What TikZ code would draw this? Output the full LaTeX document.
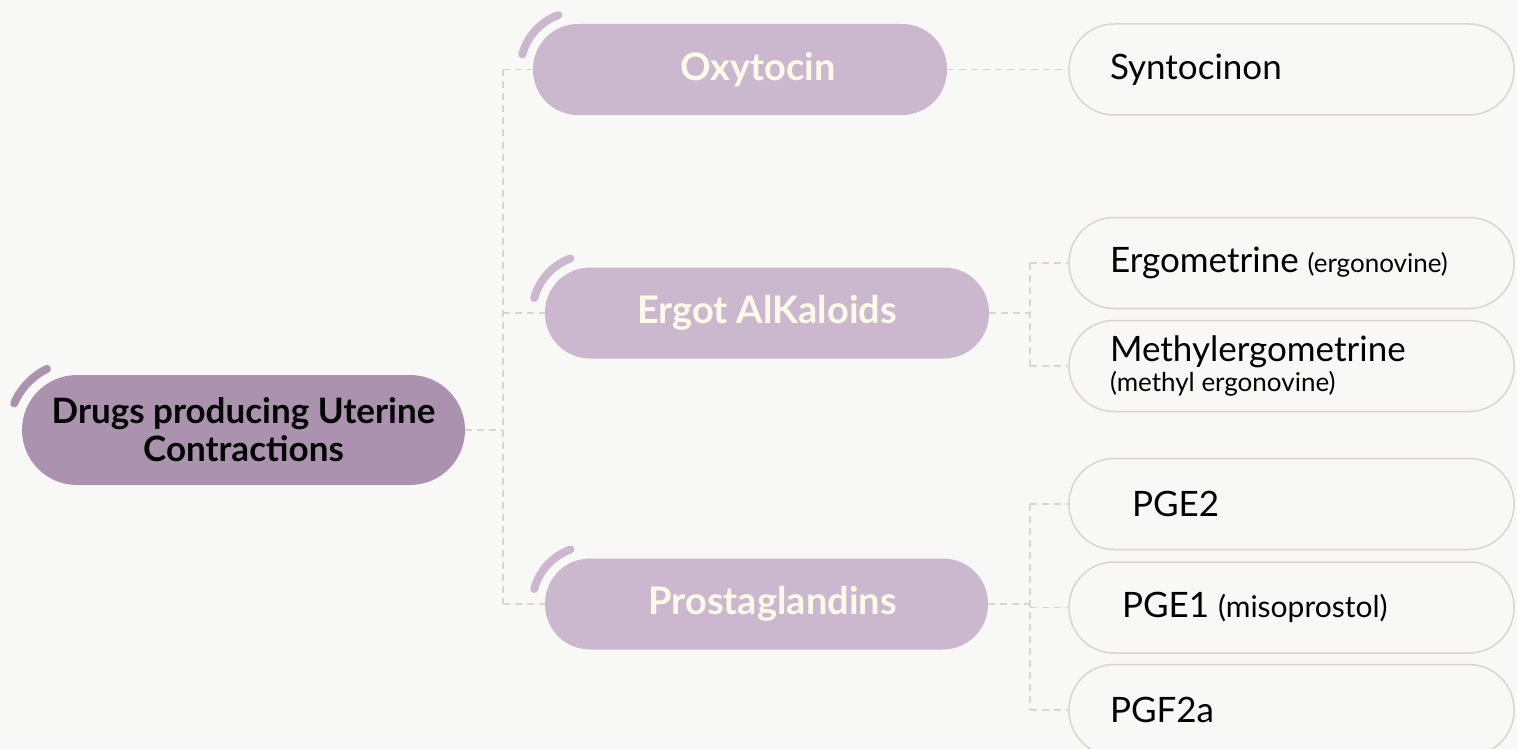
\documentclass[tikz,border=0pt]{standalone}
\usepackage{fontspec}
\setmainfont{Lato}
\usetikzlibrary{positioning,calc}
\definecolor{pagebg}{RGB}{248,248,246}
\definecolor{rootpurple}{RGB}{171,147,176}
\definecolor{branchpurple}{RGB}{203,184,207}
\definecolor{creamtext}{RGB}{255,250,232}
\definecolor{leafline}{RGB}{218,213,205}

\newcommand{\paren}[1]{{\fontsize{26}{30}\selectfont #1}}

\tikzset{
  rootbox/.style={fill=rootpurple, text=black, rounded corners=55pt, minimum width=443pt,
    minimum height=110pt, align=center, inner sep=0pt,
    font=\fontsize{35}{38}\selectfont\bfseries},
  branchbox/.style={fill=branchpurple, text=creamtext, rounded corners=45pt,
    minimum height=91pt, inner sep=0pt, font=\fontsize{38}{40}\selectfont\bfseries},
  leafbox/.style={draw=leafline, line width=1.5pt, rounded corners=45pt, minimum height=91pt,
    text width=363pt, inner xsep=41pt, inner ysep=0pt, align=left,
    font=\fontsize{35}{30}\selectfont,
    execute at begin node={\spaceskip=0pt\xspaceskip=0pt}},
  link/.style={draw=leafline, line width=1.5pt, dash pattern=on 7pt off 5pt},
  swoosh/.style={line width=8pt, line cap=round}
}

\begin{document}
\begin{tikzpicture}[x=1pt,y=-1pt]
    % Page
    \fill[pagebg] (0,0) rectangle (1517,749);
    \useasboundingbox (0,0) rectangle (1517,749);

    % Root
    \node[rootbox] (root) at (243.5,430) {Drugs producing Uterine\\Contractions};

    % Branches
    \node[branchbox, minimum width=414pt] (oxy) at (740,69.5) {\hspace*{36pt}Oxytocin};
    \node[branchbox, minimum width=444pt] (ergot) at (767,313) {Ergot AlKaloids};
    \node[branchbox, minimum width=443pt] (prosta) at (766.5,604) {\hspace*{12pt}Prostaglandins};

    % Leaves
    \node[leafbox] (synto) at (1291.5,69.5) {Syntocinon};
    \node[leafbox] (ergo) at (1291.5,263) {Ergometrine \paren{(ergonovine)}};
    \node[leafbox] (methyl) at (1291.5,366) {Methylergometrine\\\paren{(methyl ergonovine)}};
    \node[leafbox] (pgetwo) at (1291.5,504) {\hspace*{22pt}PGE2};
    \node[leafbox] (pgeone) at (1291.5,607.5) {\hspace*{12pt}PGE1 {\fontsize{30}{30}\selectfont (misoprostol)}};
    \node[leafbox] (pgf) at (1291.5,710) {PGF2a};

    % Swooshes (y axis points down, so angles are negative)
    \draw[swoosh,rootpurple] ($(root.west)+(55,0)+(-157:68)$) arc[start angle=-157,end angle=-116,radius=68];
    \draw[swoosh,branchpurple] ($(oxy.west)+(45.5,0)+(-165:58)$) arc[start angle=-165,end angle=-110,radius=58];
    \draw[swoosh,branchpurple] ($(ergot.west)+(45.5,0)+(-165:58)$) arc[start angle=-165,end angle=-110,radius=58];
    \draw[swoosh,branchpurple] ($(prosta.west)+(45.5,0)+(-165:58)$) arc[start angle=-165,end angle=-110,radius=58];

    % Root links
    \coordinate (rbus) at ($(root.east)+(38,0)$);
    \draw[link] (root.east) -- (rbus);
    \draw[link] (rbus |- oxy.west) -- (rbus |- prosta.west);
    \foreach \b in {oxy,ergot,prosta}
        \draw[link] (rbus |- \b.west) -- (\b.west);

    % Oxytocin link
    \draw[link] (oxy.east) -- (synto.west);

    % Ergot links
    \coordinate (ebus) at ($(ergot.east)+(41,0)$);
    \draw[link] (ergot.east) -- (ebus);
    \draw[link] (ebus |- ergo.west) -- (ebus |- methyl.west);
    \foreach \l in {ergo,methyl}
        \draw[link] (ebus |- \l.west) -- (\l.west);

    % Prostaglandin links
    \coordinate (pbus) at ($(prosta.east)+(42,0)$);
    \draw[link] (prosta.east) -- (pbus);
    \draw[link] (pbus |- pgetwo.west) -- (pbus |- pgf.west);
    \foreach \l in {pgetwo,pgeone,pgf}
        \draw[link] (pbus |- \l.west) -- (\l.west);
\end{tikzpicture}
\end{document}
